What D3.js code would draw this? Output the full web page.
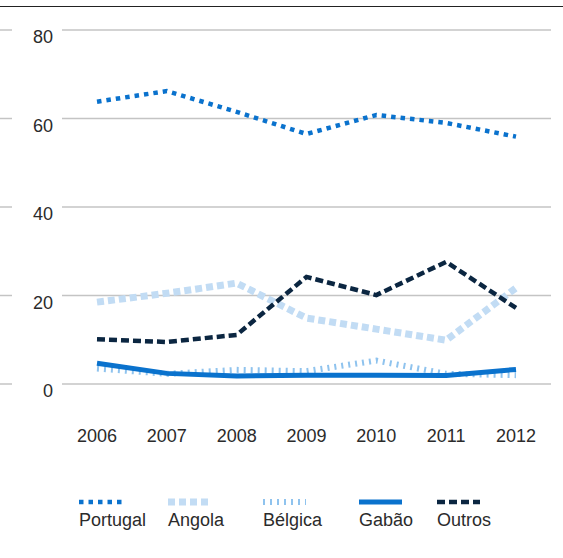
<!DOCTYPE html>
<html lang="en">
<head>
  <meta charset="UTF-8">
  <title>Line chart</title>
  <script src="https://d3js.org/d3.v7.min.js"></script>
  <style>
    body { margin: 0; background: #fff; }
    text { font-family: "Liberation Sans", Arial, sans-serif; fill: #2b2b2b; }
  </style>
</head>
<body>
  <script>
    // 1. Data
    const years = ["2006", "2007", "2008", "2009", "2010", "2011", "2012"];
    const yTicks = [0, 20, 40, 60, 80];
    const portugal = [63.8, 66.2, 61.5, 56.5, 60.8, 59.0, 55.9];
    const angola   = [18.5, 20.5, 22.8, 14.9, 12.4, 9.9, 21.7];
    const belgica  = [3.5, 2.3, 3.2, 2.9, 5.3, 2.3, 2.0];
    const gabao    = [4.7, 2.4, 1.8, 2.0, 2.0, 1.9, 3.3];
    const outros   = [10.1, 9.5, 11.1, 24.2, 20.1, 27.6, 17.2];

    const series = [
      { name: "Portugal", values: portugal, color: "#0a72cd", width: 4.5, dash: "4.5,5" },
      { name: "Angola",   values: angola,   color: "#c2dcf4", width: 7,   dash: "7,4" },
      { name: "Bélgica",  values: belgica,  color: "#8fc3ee", width: 6,   dash: "2,5" },
      { name: "Gabão",    values: gabao,    color: "#0a72cd", width: 5,   dash: null },
      { name: "Outros",   values: outros,   color: "#0b2641", width: 4.5, dash: "8,4" }
    ];

    // 2. SVG Canvas
    const width = 563, height = 558;
    const svg = d3.select("body")
                  .append("svg")
                  .attr("width", width)
                  .attr("height", height);

    // 3. Scales
    const x = d3.scalePoint().domain(years).range([97, 516]);
    const y = d3.scaleLinear().domain([0, 80]).range([384, 30]);

    // top rule
    svg.append("line")
       .attr("x1", 0).attr("x2", width)
       .attr("y1", 6.5).attr("y2", 6.5)
       .attr("stroke", "#222").attr("stroke-width", 1);

    // 4. Gridlines + y labels
    const grid = svg.append("g");
    yTicks.forEach(v => {
      grid.append("line")
          .attr("x1", 0).attr("x2", 12)
          .attr("y1", y(v)).attr("y2", y(v))
          .attr("stroke", "#c4c4c4").attr("stroke-width", 1.5);
      grid.append("line")
          .attr("x1", 62).attr("x2", 551)
          .attr("y1", y(v)).attr("y2", y(v))
          .attr("stroke", "#c4c4c4").attr("stroke-width", 1.5);
      grid.append("text")
          .attr("x", 53).attr("y", y(v) + 13)
          .attr("text-anchor", "end")
          .style("font-size", "18px")
          .text(v);
    });

    // x labels
    svg.append("g").selectAll("text")
       .data(years).join("text")
       .attr("x", d => x(d))
       .attr("y", 442)
       .attr("text-anchor", "middle")
       .style("font-size", "18px")
       .text(d => d);

    // 5. Lines
    const line = d3.line()
                   .x((d, i) => x(years[i]))
                   .y(d => y(d));

    const drawOrder = ["Bélgica", "Gabão", "Angola", "Outros", "Portugal"];
    drawOrder.forEach(n => {
      const s = series.find(d => d.name === n);
      svg.append("path")
         .datum(s.values)
         .attr("fill", "none")
         .attr("stroke", s.color)
         .attr("stroke-width", s.width)
         .attr("stroke-dasharray", s.dash)
         .attr("d", line);
    });

    // 6. Legend
    const legendX = [79, 168, 263, 359, 437];
    const legend = svg.append("g");
    series.forEach((s, i) => {
      legend.append("line")
            .attr("x1", legendX[i]).attr("x2", legendX[i] + 43)
            .attr("y1", 502).attr("y2", 502)
            .attr("stroke", s.color)
            .attr("stroke-width", s.width)
            .attr("stroke-dasharray", s.dash);
      legend.append("text")
            .attr("x", legendX[i]).attr("y", 526)
            .style("font-size", "18px")
            .text(s.name);
    });
  </script>
</body>
</html>
